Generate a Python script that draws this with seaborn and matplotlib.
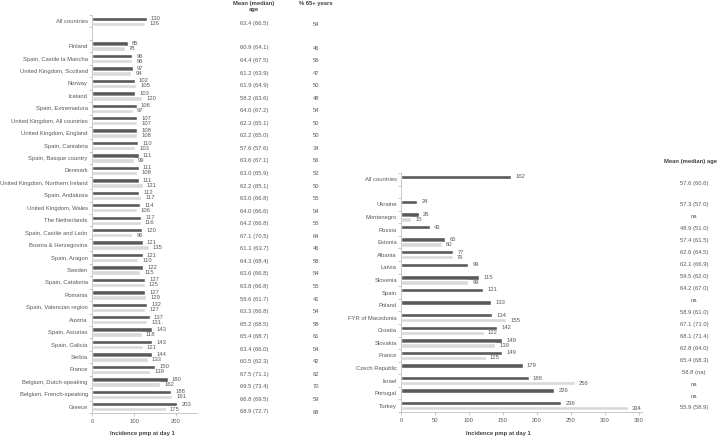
import numpy as np
import pandas as pd
import matplotlib
matplotlib.use('Agg')
import matplotlib.pyplot as plt
import seaborn as sns

# Left panel data
left_countries = [
    'All countries', 'Finland', 'Spain, Castile la Mancha', 'United Kingdom, Scotland',
    'Norway', 'Iceland', 'Spain, Extremadura', 'United Kingdom, All countries',
    'United Kingdom, England', 'Spain, Cantabria', 'Spain, Basque country', 'Denmark',
    'United Kingdom, Northern Ireland', 'Spain, Andalusia', 'United Kingdom, Wales',
    'The Netherlands', 'Spain, Castile and León', 'Bosnia & Herzegovina', 'Spain, Aragon',
    'Sweden', 'Spain, Catalonia', 'Romania', 'Spain, Valencian region', 'Austria',
    'Spain, Asturias', 'Spain, Galicia', 'Serbia', 'France', 'Belgium, Dutch-speaking',
    'Belgium, French-speaking', 'Greece']
left_dark = [130, 85, 96, 97, 102, 103, 106, 107, 108, 110, 111, 111, 111, 112, 114, 117,
             120, 121, 121, 122, 127, 127, 132, 137, 143, 143, 144, 150, 180, 188, 203]
left_light = [126, 78, 96, 94, 105, 120, 97, 107, 108, 103, 99, 108, 121, 117, 106, 116,
              96, 135, 110, 115, 125, 129, 127, 131, 118, 121, 133, 139, 162, 191, 175]
left_age = ['63.4 (66.5)', '60.9 (64.1)', '64.4 (67.5)', '61.2 (63.9)', '61.9 (64.9)',
            '58.2 (63.6)', '64.0 (67.2)', '62.3 (65.1)', '62.2 (65.0)', '57.6 (57.6)',
            '63.6 (67.1)', '63.0 (65.9)', '62.2 (65.1)', '63.0 (66.8)', '64.0 (66.6)',
            '64.2 (66.8)', '67.1 (70.5)', '61.1 (63.7)', '64.3 (68.4)', '63.6 (66.8)',
            '63.8 (66.8)', '59.6 (61.7)', '63.3 (66.8)', '65.2 (68.5)', '65.4 (68.7)',
            '63.4 (66.0)', '60.5 (62.3)', '67.5 (71.1)', '69.5 (73.4)', '66.8 (69.5)',
            '68.9 (72.7)']
left_pct65 = [54, 46, 56, 47, 50, 48, 54, 50, 50, 34, 56, 52, 50, 55, 54, 55, 64, 46, 58,
              54, 55, 41, 54, 58, 61, 54, 42, 62, 70, 59, 68]

# Right panel data
right_countries = [
    'All countries', 'Ukraine', 'Montenegro', 'Russia', 'Estonia', 'Albania', 'Latvia',
    'Slovenia', 'Spain', 'Poland', 'FYR of Macedonia', 'Croatia', 'Slovakia', 'France',
    'Czech Republic', 'Israel', 'Portugal', 'Turkey']
right_dark = [162, 24, 26, 43, 65, 77, 99, 115, 121, 133, 134, 142, 149, 149, 179, 188, 226, 236]
right_light = [np.nan, np.nan, 15, np.nan, 60, 76, np.nan, 99, np.nan, np.nan, 155, 122,
               139, 125, np.nan, 256, np.nan, 334]
right_age = ['57.6 (60.6)', '57.3 (57.0)', 'na', '48.9 (51.0)', '57.4 (61.5)', '62.6 (64.5)',
             '62.1 (66.9)', '59.5 (62.0)', '64.2 (67.0)', 'na', '58.9 (61.0)', '67.1 (71.0)',
             '68.1 (71.4)', '62.8 (64.0)', '65.4 (68.3)', '58.8 (na)', 'na', 'na',
             '55.9 (58.9)']

DARK = '#595959'
LIGHT = '#d9d9d9'
TXT = '#595959'
AXC = '#bfbfbf'
FS = 4.2

sns.set_theme(style='white')
plt.rcParams['font.family'] = ['Liberation Sans', 'DejaVu Sans']


def long_form(countries, dark, light):
    rows = []
    for c, d, l in zip(countries, dark, light):
        rows.append((c, 'a', d))
        rows.append((c, 'b', l))
    return pd.DataFrame(rows, columns=['country', 'series', 'value'])


def draw_panel(ax, countries, dark, light, xmax, xticks):
    df = long_form(countries, dark, light)
    order = [countries[0], ''] + countries[1:]
    sns.barplot(data=df, x='value', y='country', hue='series', order=order,
                hue_order=['a', 'b'], palette=[DARK, LIGHT], orient='h',
                width=0.8, gap=0.12, errorbar=None, legend=False, ax=ax)
    for cont in ax.containers:
        labels = [f'{v:.0f}' if np.isfinite(v) else '' for v in cont.datavalues]
        ax.bar_label(cont, labels=labels, padding=3, fontsize=FS, color=TXT)
    ax.set_xlim(0, xmax)
    ax.set_xticks(xticks)
    ax.set_xlabel('')
    ax.set_ylabel('')
    for s in ['top', 'right']:
        ax.spines[s].set_visible(False)
    for s in ['left', 'bottom']:
        ax.spines[s].set_color(AXC)
        ax.spines[s].set_linewidth(0.6)
    ax.tick_params(axis='y', length=0, labelsize=FS, labelcolor=TXT, pad=3)
    ax.tick_params(axis='x', length=2, width=0.6, color=AXC, labelsize=FS,
                   labelcolor=TXT, pad=2, bottom=True)
    ax.set_yticks(np.arange(-0.5, len(order), 1), minor=True)
    ax.tick_params(axis='y', which='minor', length=2, width=0.6, color=AXC, left=True)


fig = plt.figure(figsize=(7.2, 4.38), dpi=100)
W, H = 720, 438

ax1 = fig.add_axes([92 / W, 1 - 413 / H, 105 / W, 398 / H])
draw_panel(ax1, left_countries, left_dark, left_light, 250, [0, 100, 200])

ax2 = fig.add_axes([401 / W, 1 - 412 / H, 241 / W, 239 / H])
draw_panel(ax2, right_countries, right_dark, right_light, 355, [0, 50, 100, 150, 200, 250, 300, 350])

# x-axis titles
fig.text(142 / W, 1 - 434 / H, 'Incidence pmp at day 1', ha='center', va='center',
         fontsize=FS, fontweight='bold', color='#404040')
fig.text(498 / W, 1 - 434 / H, 'Incidence pmp at day 1', ha='center', va='center',
         fontsize=FS, fontweight='bold', color='#404040')

# left table
fig.text(254 / W, 1 - 1 / H, 'Mean (median)\nage', ha='center', va='top', fontsize=FS,
         fontweight='bold', color='#404040', linespacing=1.2)
fig.text(316 / W, 1 - 3 / H, '% 65+ years', ha='center', va='center', fontsize=FS,
         fontweight='bold', color='#404040')
left_y = [24] + list(np.linspace(48, 412, len(left_age) - 1))
for y, a, p in zip(left_y, left_age, left_pct65):
    fig.text(254 / W, 1 - y / H, a, ha='center', va='center', fontsize=FS, color=TXT)
    fig.text(316 / W, 1 - y / H, str(p), ha='center', va='center', fontsize=FS, color=TXT)

# right table
fig.text(717 / W, 1 - 162 / H, 'Mean (median) age', ha='right', va='center', fontsize=FS,
         fontweight='bold', color='#404040')
right_y = [183] + list(np.linspace(205, 408, len(right_age) - 1))
for y, a in zip(right_y, right_age):
    fig.text(694 / W, 1 - y / H, a, ha='center', va='center', fontsize=FS, color=TXT)

fig.savefig('out.png', dpi=100)
